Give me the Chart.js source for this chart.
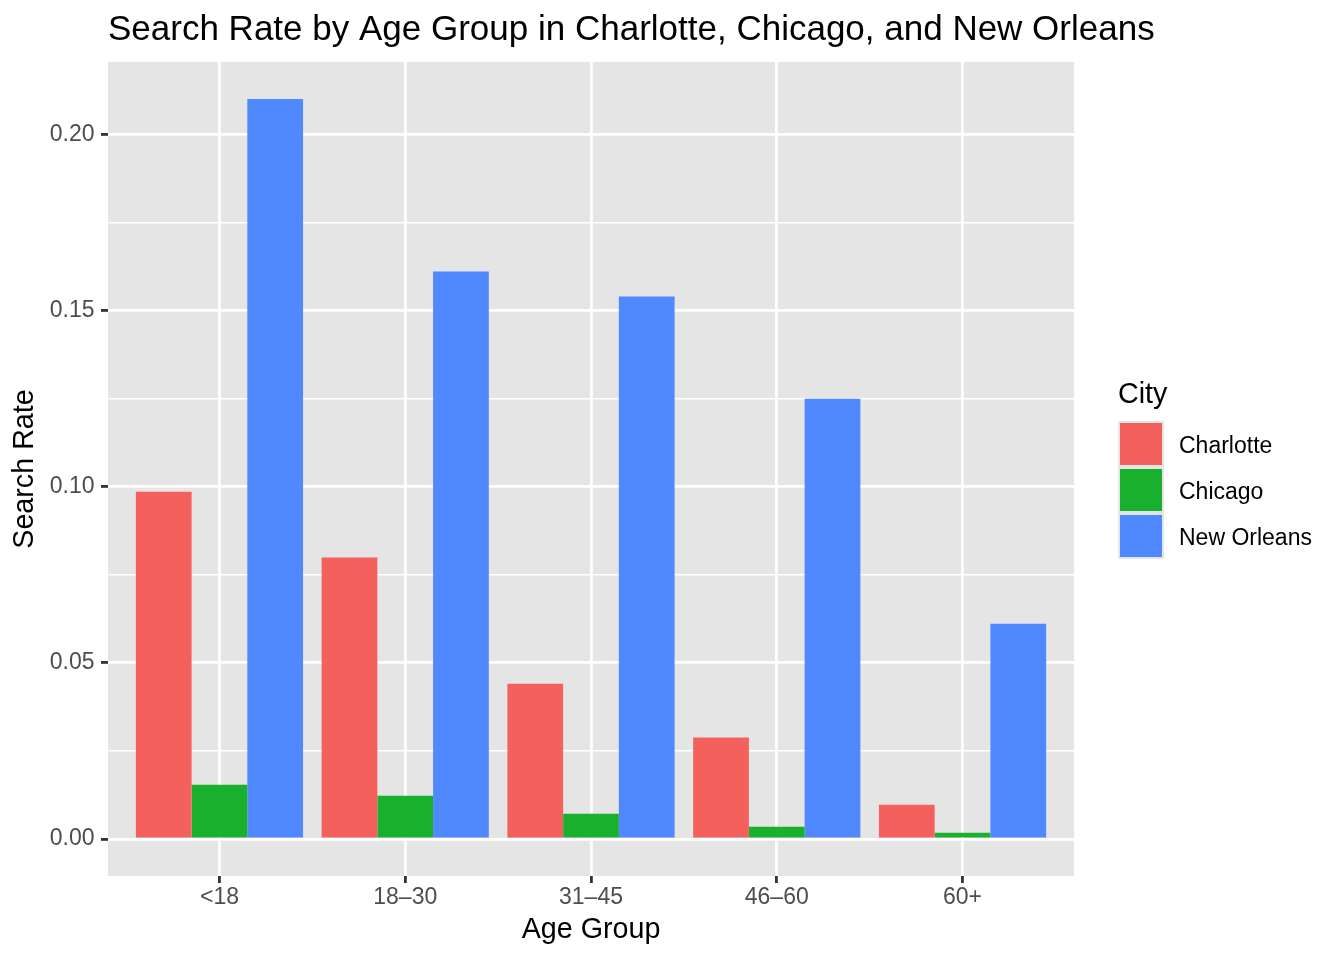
<!DOCTYPE html>
<html>
<head>
<meta charset="utf-8">
<script src="https://cdn.jsdelivr.net/npm/chart.js@4"></script>
<style>
html, body { margin: 0; padding: 0; background: #ffffff; }
#wrap { width: 1344px; height: 960px; position: relative; }
canvas { display: block; }
</style>
</head>
<body>
<div id="wrap"><canvas id="chart" width="1344" height="960"></canvas></div>
<script>
// ---- data ----
const ageGroups = ['<18', '18–30', '31–45', '46–60', '60+'];
const cities = ['Charlotte', 'Chicago', 'New Orleans'];
const charlotte = [0.0986, 0.0799, 0.0441, 0.0288, 0.0097];
const chicago = [0.0154, 0.0123, 0.0072, 0.0035, 0.0018];
const newOrleans = [0.2101, 0.1611, 0.1540, 0.1250, 0.0611];
const yMajorTicks = [0.00, 0.05, 0.10, 0.15, 0.20];
const yMinorTicks = [0.025, 0.075, 0.125, 0.175];
const chartTitle = 'Search Rate by Age Group in Charlotte, Chicago, and New Orleans';
const xTitle = 'Age Group';
const yTitle = 'Search Rate';
const legendTitle = 'City';

// ---- styles ----
const cityColors = ['#F4605B', '#19B02E', '#5088FF'];
const FONT = '"Liberation Sans", Arial, Helvetica, sans-serif';
const PANEL = '#E5E5E5';

Chart.defaults.font.family = FONT;

const seriesValues = [charlotte, chicago, newOrleans];
const allValues = [].concat(charlotte, chicago, newOrleans);
const dMax = Math.max(...allValues);
const dMin = Math.min(0, ...allValues);
const yPad = 0.05 * (dMax - dMin);
const yAllTicks = yMajorTicks.concat(yMinorTicks).sort((a, b) => a - b);
const isMajor = v => yMajorTicks.some(m => Math.abs(m - v) < 1e-9);

const datasets = cities.map((name, k) => ({
  label: name,
  data: seriesValues[k].map((v, i) => ({ x: i + 1, y: v })),
  backgroundColor: cityColors[k],
  borderWidth: 0,
  categoryPercentage: 0.9,
  barPercentage: 1.0
}));

const panelBg = {
  id: 'panelBg',
  beforeDraw(chart) {
    const a = chart.chartArea, ctx = chart.ctx;
    ctx.save();
    ctx.fillStyle = PANEL;
    ctx.fillRect(a.left, a.top, a.right - a.left, a.bottom - a.top);
    ctx.restore();
  }
};

const ggTitle = {
  id: 'ggTitle',
  afterDraw(chart) {
    const ctx = chart.ctx, a = chart.chartArea;
    ctx.save();
    ctx.fillStyle = '#000000';
    ctx.font = '35px ' + FONT;
    ctx.textAlign = 'left';
    ctx.textBaseline = 'alphabetic';
    ctx.fillText(chartTitle, a.left, a.top - 22);
    ctx.restore();
  }
};

const ggLegend = {
  id: 'ggLegend',
  afterDraw(chart) {
    const ctx = chart.ctx, a = chart.chartArea;
    const x0 = a.right + 44;
    const cy = (a.top + a.bottom) / 2;
    const key = 46;
    const keyTop = cy - 48;
    ctx.save();
    ctx.textAlign = 'left';
    ctx.fillStyle = '#000000';
    ctx.font = '28.7px ' + FONT;
    ctx.textBaseline = 'alphabetic';
    ctx.fillText(legendTitle, x0, cy - 66);
    chart.data.datasets.forEach((ds, i) => {
      const y = keyTop + i * key;
      ctx.fillStyle = PANEL;
      ctx.fillRect(x0, y, key, key);
      ctx.fillStyle = ds.backgroundColor;
      ctx.fillRect(x0 + 2, y + 2, key - 4, key - 4);
      ctx.fillStyle = '#000000';
      ctx.font = '23px ' + FONT;
      ctx.textBaseline = 'middle';
      ctx.fillText(ds.label, x0 + 61, y + key / 2 + 2.5);
    });
    ctx.restore();
  }
};

new Chart(document.getElementById('chart'), {
  type: 'bar',
  data: { datasets },
  plugins: [panelBg, ggTitle, ggLegend],
  options: {
    responsive: false,
    animation: false,
    devicePixelRatio: 1,
    layout: { padding: { top: 62, right: 270, bottom: 0, left: 0 } },
    plugins: {
      legend: { display: false },
      tooltip: { enabled: false },
      title: { display: false }
    },
    scales: {
      x: {
        type: 'linear',
        offset: false,
        min: 1 - 0.6,
        max: ageGroups.length + 0.6,
        afterBuildTicks: s => { s.ticks = ageGroups.map((g, i) => ({ value: i + 1 })); },
        afterFit: s => { s.height = 84; },
        grid: {
          offset: false,
          color: '#FFFFFF',
          lineWidth: 2.8,
          drawTicks: true,
          tickLength: 7,
          tickWidth: 2.8,
          tickColor: '#333333'
        },
        border: { display: false },
        ticks: {
          autoSkip: false,
          maxRotation: 0,
          padding: 1,
          color: '#4D4D4D',
          font: { size: 23 },
          callback: v => ageGroups[Math.round(v) - 1] || ''
        },
        title: {
          display: true,
          text: xTitle,
          color: '#000000',
          font: { size: 28.7 },
          padding: { top: 0, bottom: 12.5 }
        }
      },
      y: {
        type: 'linear',
        min: dMin - yPad,
        max: dMax + yPad,
        afterBuildTicks: s => { s.ticks = yAllTicks.map(v => ({ value: v })); },
        afterFit: s => { s.width = 108; },
        grid: {
          color: '#FFFFFF',
          lineWidth: c => (c.tick && isMajor(c.tick.value)) ? 2.8 : 1.4,
          drawTicks: true,
          tickLength: 7,
          tickWidth: 2.8,
          tickColor: c => (c.tick && isMajor(c.tick.value)) ? '#333333' : 'rgba(0,0,0,0)'
        },
        border: { display: false },
        ticks: {
          autoSkip: false,
          padding: 6.5,
          color: '#4D4D4D',
          font: { size: 23 },
          callback: v => isMajor(v) ? v.toFixed(2) : ''
        },
        title: {
          display: true,
          text: yTitle,
          color: '#000000',
          font: { size: 28.7 },
          padding: { top: 7.8, bottom: 0 }
        }
      }
    }
  }
});
</script>
</body>
</html>
